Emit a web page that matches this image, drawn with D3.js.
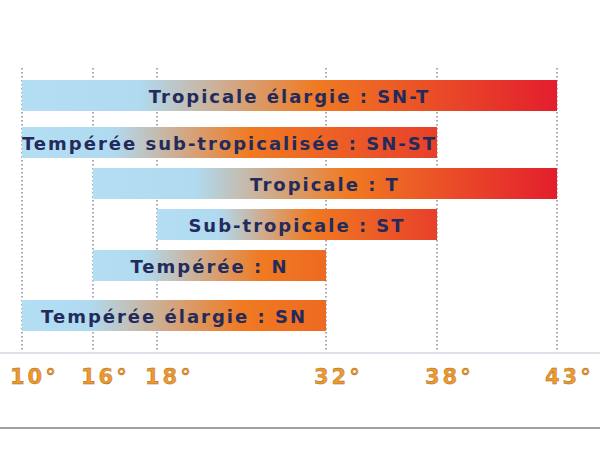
<!DOCTYPE html>
<html><head><meta charset="utf-8">
<script src="https://cdn.jsdelivr.net/npm/d3@7"></script>
<style>body{margin:0;background:#fff}</style>
</head><body>
<svg id="c" width="600" height="450"></svg>
<script>
const labels = ["Tropicale élargie : SN-T", "Tempérée sub-tropicalisée : SN-ST", "Tropicale : T", "Sub-tropicale : ST", "Tempérée : N", "Tempérée élargie : SN"];
const starts = [10, 10, 16, 18, 16, 10];
const ends = [43, 38, 43, 38, 32, 32];
const ticks = [10, 16, 18, 32, 38, 43];
const rowTops = [80, 127, 168, 209, 250, 300];

const svg = d3.select("#c");
// the original axis is not linear; map each tick to its place
const x = d3.scaleLinear().domain(ticks).range([22, 93, 157, 326, 437, 557]);

const endColor = d3.scaleLinear().domain([32, 38, 43]).range(["#ee6a22", "#e8402a", "#e31e2d"]);
const defs = svg.append("defs");
labels.forEach((l, i) => {
  const g = defs.append("linearGradient").attr("id", "g" + i);
  const mid = ends[i] > 32 ? 0.55 : 0.72;
  g.append("stop").attr("offset", 0).attr("stop-color", "#b4def4");
  g.append("stop").attr("offset", 0.22).attr("stop-color", "#b0daf0");
  g.append("stop").attr("offset", mid).attr("stop-color", "#f07a22");
  g.append("stop").attr("offset", 1).attr("stop-color", endColor(ends[i]));
});

// dotted grid
svg.selectAll("line.grid").data(ticks).join("line")
  .attr("x1", d => x(d)).attr("x2", d => x(d)).attr("y1", 68).attr("y2", 352)
  .attr("stroke", "#556").attr("stroke-width", 1).attr("stroke-dasharray", "1.5,2.5");

svg.append("line").attr("x1", 0).attr("x2", 600).attr("y1", 353).attr("y2", 353)
  .attr("stroke", "#d8d4e4").attr("stroke-width", 1.5);
svg.append("line").attr("x1", 0).attr("x2", 600).attr("y1", 428).attr("y2", 428)
  .attr("stroke", "#444").attr("stroke-width", 1);

svg.selectAll("rect.bar").data(labels).join("rect")
  .attr("x", (d, i) => x(starts[i])).attr("y", (d, i) => rowTops[i])
  .attr("width", (d, i) => x(ends[i]) - x(starts[i])).attr("height", 31)
  .attr("fill", (d, i) => `url(#g${i})`);

svg.selectAll("text.lab").data(labels).join("text")
  .attr("x", (d, i) => (x(starts[i]) + x(ends[i])) / 2).attr("y", (d, i) => rowTops[i] + 23)
  .attr("text-anchor", "middle").attr("font-family", "DejaVu Sans").attr("font-weight", "bold")
  .attr("font-size", 18).attr("letter-spacing", 2).attr("fill", "#232a5c").text(d => d);

svg.selectAll("text.tick").data(ticks).join("text")
  .attr("x", d => x(d) - 12).attr("y", 384).attr("text-anchor", "start")
  .attr("font-family", "DejaVu Sans").attr("font-weight", "bold").attr("font-size", 21)
  .attr("letter-spacing", 3).attr("fill", "#ec9a2e").attr("stroke", "#a8661e").attr("stroke-width", 0.4)
  .text(d => d + "°");
</script>
</body></html>
